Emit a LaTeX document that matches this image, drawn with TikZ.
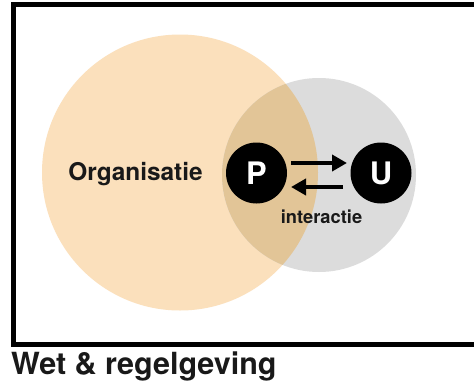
\documentclass[tikz,border=0pt]{standalone}
\usepackage{fontspec}
\setmainfont{TeX Gyre Heros}
\usetikzlibrary{arrows.meta}
\definecolor{orgfill}{HTML}{FBE0BC}
\definecolor{grayfill}{HTML}{DCDCDC}
\definecolor{overlapfill}{HTML}{E2C597}
\tikzset{
  x=1pt,y=-1pt,
  actor/.style={circle,fill=black,text=white,minimum size=61pt,inner sep=0pt,font=\bfseries\fontsize{31}{33}\selectfont},
  flow/.style={line width=4.4pt,draw=black,-{Triangle[length=15pt,width=16pt]}},
  lbl/.style={inner sep=0pt,text=black!90}
}
\begin{document}
\begin{tikzpicture}
\useasboundingbox (0,0) rectangle (474,383);
\fill[white] (0,0) rectangle (474,383);
\fill[black] (11,2) rectangle (474,346.5);
\fill[white] (16,6.5) rectangle (474,342);
\fill[orgfill] (180,172.5) circle (138);
\fill[grayfill] (319,175) circle (97);
\begin{scope}
\clip (180,172.5) circle (138);
\fill[overlapfill] (319,175) circle (97);
\end{scope}
\node[actor] (p) at (256.5,173) {P};
\node[actor] (u) at (381,173) {U};
\coordinate (pout) at (291,163);
\coordinate (uin) at (347,163);
\coordinate (uout) at (343,187);
\coordinate (pin) at (291,187);
\draw[flow] (pout) -- (uin);
\draw[flow] (uout) -- (pin);
\node[lbl,font=\bfseries\fontsize{18.3}{20}\selectfont] (i) at (321.5,217) {interactie};
\node[lbl,font=\bfseries\fontsize{24.4}{26}\selectfont] (o) at (135.5,174) {Organisatie};
\node[lbl,font=\bfseries\fontsize{30.5}{32}\selectfont,anchor=base west] (w) at (11,374) {Wet \& regelgeving};
\end{tikzpicture}
\end{document}
